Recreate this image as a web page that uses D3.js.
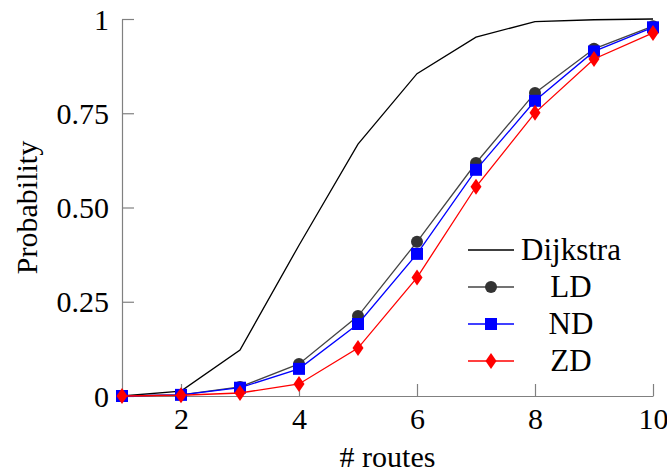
<!DOCTYPE html>
<html>
<head>
<meta charset="utf-8">
<script src="https://cdn.jsdelivr.net/npm/d3@7"></script>
<style>
  body { margin: 0; background: #fff; }
  svg { display: block; }
</style>
</head>
<body>
<svg id="chart" width="667" height="472"></svg>
<script>
// data
var routes = [1, 2, 3, 4, 5, 6, 7, 8, 9, 10];
var dijkstra = [0, 0.013, 0.122, 0.40, 0.668, 0.855, 0.952, 0.993, 0.998, 1.0];
var ld = [0, 0.003, 0.024, 0.085, 0.212, 0.409, 0.618, 0.804, 0.921, 0.981];
var nd = [0, 0.003, 0.022, 0.072, 0.191, 0.377, 0.600, 0.783, 0.914, 0.978];
var zd = [0, 0.002, 0.008, 0.032, 0.127, 0.314, 0.555, 0.751, 0.894, 0.963];
var seriesNames = ["Dijkstra", "LD", "ND", "ZD"];
var xTicks = [2, 4, 6, 8, 10];
var yTicks = [0, 0.25, 0.5, 0.75, 1];
var yTickLabels = ["0", "0.25", "0.50", "0.75", "1"];

var LEFT = 122, RIGHT = 653, TOP = 19, BOTTOM = 396;
var FONT = 30;
var SERIF = "Liberation Serif";
var axisColor = "#808080";

var svg = d3.select("#chart");

var x = d3.scaleLinear().domain([1, 10]).range([LEFT, RIGHT]);
var y = d3.scaleLinear().domain([0, 1]).range([BOTTOM, TOP]);

// axes (ticks point inwards)
var xAxis = svg.append("g")
  .attr("transform", "translate(0," + BOTTOM + ")")
  .call(d3.axisBottom(x).tickValues(xTicks).tickSizeInner(-12).tickSizeOuter(0).tickFormat(d3.format("d")));

var yAxis = svg.append("g")
  .attr("transform", "translate(" + LEFT + ",0)")
  .call(d3.axisLeft(y).tickValues(yTicks).tickSizeInner(-12).tickSizeOuter(0)
    .tickFormat(function(d, i){ return yTickLabels[i]; }));

xAxis.attr("font-family", SERIF).attr("font-size", FONT);
yAxis.attr("font-family", SERIF).attr("font-size", FONT);
xAxis.selectAll("text").attr("y", 33).attr("dy", null).attr("fill", "#000");
yAxis.selectAll("text").attr("x", -13).attr("dy", "0.34em").attr("fill", "#000");

svg.selectAll(".domain, .tick line").attr("stroke", axisColor).attr("stroke-width", 1.2);

// axis titles
svg.append("text")
  .attr("x", (LEFT + RIGHT) / 2).attr("y", 467)
  .attr("text-anchor", "middle")
  .attr("font-family", SERIF).attr("font-size", FONT)
  .text("# routes");

svg.append("text")
  .attr("transform", "translate(37," + ((TOP + BOTTOM) / 2) + ") rotate(-90)")
  .attr("text-anchor", "middle")
  .attr("font-family", SERIF).attr("font-size", FONT)
  .text("Probability");

// series
var styles = [
  {name: seriesNames[0], values: dijkstra, line: "#000", fill: null, marker: null},
  {name: seriesNames[1], values: ld, line: "#444", fill: "#333", marker: "circle"},
  {name: seriesNames[2], values: nd, line: "#0000ff", fill: "#0000ff", marker: "square"},
  {name: seriesNames[3], values: zd, line: "#ff0000", fill: "#ff0000", marker: "diamond"}
];

var line = d3.line()
  .x(function(d){ return x(d[0]); })
  .y(function(d){ return y(d[1]); });

function markerPath(type) {
  if (type == "circle") return d3.symbol().type(d3.symbolCircle).size(Math.PI * 36)();
  if (type == "square") return "M-6,-6H6V6H-6Z";
  if (type == "diamond") return "M0,-8L5.5,0L0,8L-5.5,0Z";
  return null;
}

styles.forEach(function(s){
  var pts = routes.map(function(r, i){ return [r, s.values[i]]; });
  svg.append("path")
    .datum(pts)
    .attr("fill", "none")
    .attr("stroke", s.line)
    .attr("stroke-width", 1.3)
    .attr("d", line);
  if (s.marker) {
    svg.append("g").selectAll("path").data(pts).enter().append("path")
      .attr("transform", function(d){ return "translate(" + x(d[0]) + "," + y(d[1]) + ")"; })
      .attr("d", markerPath(s.marker))
      .attr("fill", s.fill);
  }
});

// legend
var legend = svg.append("g");
var legY0 = 250, legStep = 37;
styles.forEach(function(s, i){
  var yy = legY0 + i * legStep;
  legend.append("line")
    .attr("x1", 468).attr("x2", 514).attr("y1", yy).attr("y2", yy)
    .attr("stroke", s.line).attr("stroke-width", 1.3);
  if (s.marker) {
    legend.append("path")
      .attr("transform", "translate(491," + yy + ")")
      .attr("d", markerPath(s.marker))
      .attr("fill", s.fill);
  }
  legend.append("text")
    .attr("x", 571).attr("y", yy + 10)
    .attr("text-anchor", "middle")
    .attr("font-family", SERIF).attr("font-size", 31)
    .text(s.name);
});
</script>
</body>
</html>
